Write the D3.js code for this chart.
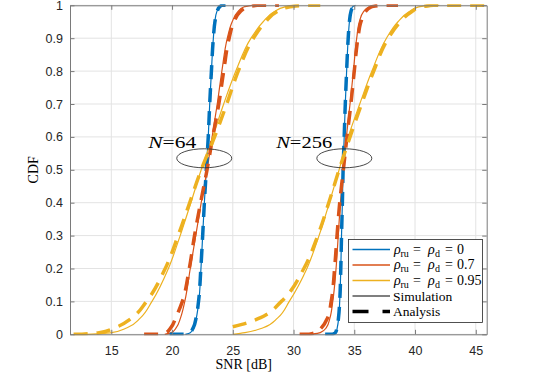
<!DOCTYPE html>
<html>
<head>
<meta charset="utf-8">
<script src="https://cdn.jsdelivr.net/npm/d3@7/dist/d3.min.js"></script>
<style>
  body { margin: 0; background: #fff; }
  .tick text { font: 12.5px "Liberation Sans", Arial, sans-serif; fill: #262626; }
  .serif { font-family: "Liberation Serif", "Times New Roman", serif; fill: #000; }
</style>
</head>
<body>
<svg id="svg1" width="538" height="379"></svg>
<script>
// tick values
var xTicks = [15, 20, 25, 30, 35, 40, 45];
var yTicks = [0, 0.1, 0.2, 0.3, 0.4, 0.5, 0.6, 0.7, 0.8, 0.9, 1];

// curves as [SNR dB, CDF]
var blueSim64 = [[21.1,0],[21.5,0.005],[21.8,0.02],[22.0,0.05],[22.2,0.1],[22.38,0.2],[22.52,0.3],[22.66,0.4],[22.82,0.5],[22.98,0.6],[23.1,0.7],[23.24,0.8],[23.4,0.9],[23.52,0.95],[23.68,0.98],[23.95,0.995],[24.3,1]];
var blueAna64 = [[19.8,0],[21.0,0],[21.45,0.005],[21.75,0.02],[21.98,0.05],[22.18,0.1],[22.37,0.2],[22.52,0.3],[22.66,0.4],[22.82,0.5],[22.98,0.6],[23.1,0.7],[23.24,0.8],[23.4,0.9],[23.53,0.95],[23.7,0.98],[23.9,0.995],[24.1,1],[24.4,1]];
var redSim64 = [[19.4,0],[19.95,0.005],[20.35,0.02],[20.7,0.05],[21.05,0.1],[21.5,0.2],[21.95,0.3],[22.4,0.4],[22.88,0.5],[23.3,0.6],[23.72,0.7],[24.1,0.8],[24.55,0.9],[24.95,0.95],[25.4,0.98],[25.9,0.995],[26.6,1]];
var redAna64 = [[17.7,0],[18.9,0],[19.5,0.005],[19.9,0.02],[20.3,0.05],[20.85,0.1],[21.42,0.2],[21.85,0.3],[22.35,0.4],[22.88,0.5],[23.35,0.6],[23.85,0.7],[24.25,0.8],[24.7,0.9],[25.1,0.95],[25.6,0.98],[26.2,0.995],[27.0,1],[28.8,1]];
var yellowSim64 = [[13.0,0],[15.0,0.005],[16.3,0.02],[17.4,0.05],[18.35,0.1],[19.7,0.2],[20.67,0.3],[21.55,0.4],[22.4,0.5],[23.35,0.6],[24.25,0.7],[25.25,0.8],[26.5,0.9],[27.5,0.95],[28.4,0.98],[29.3,0.995],[30.0,1]];
var yellowAna64 = [[10,0],[12.6,0],[14.0,0.005],[15.3,0.02],[16.7,0.05],[17.9,0.1],[19.44,0.2],[20.5,0.3],[21.45,0.4],[22.4,0.5],[23.5,0.6],[24.5,0.7],[25.45,0.8],[26.7,0.9],[27.7,0.95],[28.6,0.98],[29.6,0.995],[30.8,1],[32.2,1]];

var blueSim256 = [[33.3,0],[33.5,0.005],[33.6,0.02],[33.72,0.05],[33.8,0.1],[33.89,0.2],[33.95,0.3],[34.02,0.4],[34.08,0.5],[34.17,0.6],[34.26,0.7],[34.37,0.8],[34.5,0.9],[34.6,0.95],[34.7,0.98],[34.85,0.995],[35.1,1]];
var blueAna256 = [[32.6,0],[33.2,0],[33.45,0.005],[33.58,0.02],[33.7,0.05],[33.8,0.1],[33.89,0.2],[33.95,0.3],[34.02,0.4],[34.08,0.5],[34.17,0.6],[34.26,0.7],[34.37,0.8],[34.5,0.9],[34.6,0.95],[34.72,0.98],[34.9,0.995],[35.05,1],[35.3,1]];
var redSim256 = [[31.5,0],[32.2,0.005],[32.7,0.02],[33.0,0.05],[33.23,0.1],[33.5,0.2],[33.68,0.3],[33.86,0.4],[34.1,0.5],[34.35,0.6],[34.65,0.7],[34.93,0.8],[35.2,0.9],[35.42,0.95],[35.75,0.98],[36.2,0.995],[36.8,1]];
var redAna256 = [[30.5,0],[31.3,0],[31.8,0.005],[32.3,0.02],[32.8,0.05],[33.1,0.1],[33.38,0.2],[33.58,0.3],[33.8,0.4],[34.1,0.5],[34.4,0.6],[34.72,0.7],[35.0,0.8],[35.3,0.9],[35.55,0.95],[35.9,0.98],[36.4,0.995],[37.2,1],[38.6,1]];
var yellowSim256 = [[25.0,0],[26.0,0.005],[27.5,0.02],[28.7,0.05],[29.65,0.1],[31.1,0.2],[32.1,0.3],[32.95,0.4],[33.75,0.5],[34.5,0.6],[35.45,0.7],[36.45,0.8],[37.65,0.9],[38.6,0.95],[39.5,0.98],[40.3,0.995],[41.0,1],[42.0,1]];
var yellowAna256 = [[25.0,0.023],[26.2,0.035],[27.25,0.05],[29.0,0.1],[30.85,0.2],[32.0,0.3],[32.9,0.4],[33.75,0.5],[34.65,0.6],[35.6,0.7],[36.6,0.8],[37.8,0.9],[38.8,0.95],[39.7,0.98],[40.5,0.995],[41.5,1],[47,1]];

var series = [
  {color: "#0072BD", sim: [blueSim64, blueSim256], ana: [blueAna64, blueAna256], label: "0"},
  {color: "#D95319", sim: [redSim64, redSim256], ana: [redAna64, redAna256], label: "0.7"},
  {color: "#EDB120", sim: [yellowSim64, yellowSim256], ana: [yellowAna64, yellowAna256], label: "0.95"}
];

var svg1 = d3.select("#svg1"),
    margin = {top: 5.3, left: 70, right: 51.3, bottom: 44.7},
    width1 = +svg1.attr("width") - margin.left - margin.right,
    height1 = +svg1.attr("height") - margin.top - margin.bottom,
    g1 = svg1.append("g").attr("transform", "translate(" + margin.left + "," + margin.top + ")");

var x1 = d3.scaleLinear().domain([11.6, 45.9]).range([0, width1]),
    y1 = d3.scaleLinear().domain([0, 1]).range([height1, 0]);

// grid
g1.append("g").selectAll("line").data(xTicks).enter().append("line")
    .attr("x1", function(d) { return x1(d); }).attr("x2", function(d) { return x1(d); })
    .attr("y1", 0).attr("y2", height1)
    .attr("stroke", "#e3e3e3");
g1.append("g").selectAll("line").data(yTicks).enter().append("line")
    .attr("y1", function(d) { return y1(d); }).attr("y2", function(d) { return y1(d); })
    .attr("x1", 0).attr("x2", width1)
    .attr("stroke", "#e3e3e3");

svg1.append("defs").append("clipPath").attr("id", "clip")
  .append("rect").attr("width", width1).attr("height", height1 + 2).attr("y", -1);

var line = d3.line()
    .curve(d3.curveMonotoneY)
    .x(function(d) { return x1(d[0]); })
    .y(function(d) { return y1(d[1]); });

function pt(p) { return x1(p[0]) + "," + y1(p[1]); }

// flat head/tail segments drawn straight, the rising part smooth
function curvePath(pts) {
  var i = 0, j = pts.length - 1;
  while (i < j && pts[i + 1][1] === pts[i][1]) i++;
  while (j > i && pts[j - 1][1] === pts[j][1]) j--;
  var body = line(pts.slice(i, j + 1));
  var head = pts.slice(0, i).map(pt);
  var tail = pts.slice(j + 1).map(pt);
  var d = head.length ? "M" + head.join("L") + "L" + body.slice(1) : body;
  if (tail.length) d += "L" + tail.join("L");
  return d;
}

var plot = g1.append("g").attr("clip-path", "url(#clip)");

series.forEach(function(s) {
  s.sim.forEach(function(c) {
    plot.append("path").attr("d", curvePath(c))
      .attr("fill", "none").attr("stroke", s.color).attr("stroke-width", 1.2);
  });
});
series.forEach(function(s) {
  s.ana.forEach(function(c) {
    plot.append("path").attr("d", curvePath(c))
      .attr("fill", "none").attr("stroke", s.color).attr("stroke-width", 3.5)
      .attr("stroke-dasharray", "14,9");
  });
});

// axes with inward ticks on all sides
g1.append("g").attr("transform", "translate(0," + height1 + ")")
  .call(d3.axisBottom(x1).tickValues(xTicks).tickSizeInner(-4.5).tickSizeOuter(0).tickPadding(12));
g1.append("g")
  .call(d3.axisTop(x1).tickValues(xTicks).tickSizeInner(-4.5).tickSizeOuter(0).tickFormat(""));
g1.append("g")
  .call(d3.axisLeft(y1).tickValues(yTicks).tickSizeInner(-4.5).tickSizeOuter(0).tickPadding(7).tickFormat(d3.format("")));
g1.append("g").attr("transform", "translate(" + width1 + ",0)")
  .call(d3.axisRight(y1).tickValues(yTicks).tickSizeInner(-4.5).tickSizeOuter(0).tickFormat(""));
g1.selectAll(".domain").attr("stroke", "#7a7a7a");
g1.selectAll(".tick line").attr("stroke", "#7a7a7a");

// axis labels
svg1.append("text").attr("class", "serif")
  .attr("x", margin.left + x1(25.9)).attr("y", 369).attr("text-anchor", "middle")
  .style("font-size", "14px").text("SNR [dB]");
svg1.append("text").attr("class", "serif")
  .attr("transform", "translate(38," + (margin.top + y1(0.5)) + ") rotate(-90)")
  .attr("text-anchor", "middle").style("font-size", "14px").text("CDF");

// N annotations with ellipses
var ann = [{n: "64", tx: 18.04, ty: 0.567, len: 48, cx: 22.65, cy: 0.535},
           {n: "256", tx: 28.57, ty: 0.567, len: 56, cx: 34.18, cy: 0.535}];
ann.forEach(function(a) {
  var t = g1.append("text").attr("class", "serif")
    .attr("x", x1(a.tx)).attr("y", y1(a.ty))
    .attr("textLength", a.len).attr("lengthAdjust", "spacingAndGlyphs")
    .style("font-size", "17px");
  t.append("tspan").style("font-style", "italic").text("N");
  t.append("tspan").text("=" + a.n);
  g1.append("ellipse")
    .attr("cx", x1(a.cx)).attr("cy", y1(a.cy))
    .attr("rx", 27.5).attr("ry", 9.5)
    .attr("fill", "none").attr("stroke", "#333").attr("stroke-width", 0.9);
});

// legend
var lg = svg1.append("g").attr("transform", "translate(348.5,239.5)");
lg.append("rect").attr("width", 134).attr("height", 83)
  .attr("fill", "#fff").attr("stroke", "#262626").attr("stroke-width", 0.8);
var rowY = [10, 25.5, 41, 56.5, 72];
series.forEach(function(s, i) {
  lg.append("line").attr("x1", 4).attr("x2", 41.5).attr("y1", rowY[i]).attr("y2", rowY[i])
    .attr("stroke", s.color).attr("stroke-width", 1.3);
  var t = lg.append("text").attr("class", "serif").attr("y", rowY[i] + 4)
    .style("font-size", "14px");
  t.append("tspan").attr("x", 45.5).style("font-style", "italic").text("\u03c1");
  t.append("tspan").attr("x", 52).attr("dy", 3).style("font-size", "10px").text("ru");
  t.append("tspan").attr("x", 64.5).attr("dy", -3).text("=");
  t.append("tspan").attr("x", 79.5).style("font-style", "italic").text("\u03c1");
  t.append("tspan").attr("x", 86.5).attr("dy", 3).style("font-size", "10px").text("d");
  t.append("tspan").attr("x", 96.5).attr("dy", -3).text("=");
  t.append("tspan").attr("x", 108.5).text(s.label);
});
lg.append("line").attr("x1", 4).attr("x2", 41.5).attr("y1", rowY[3]).attr("y2", rowY[3])
  .attr("stroke", "#000").attr("stroke-width", 1.2);
lg.append("text").attr("class", "serif").attr("x", 44.5).attr("y", rowY[3] + 4.5)
  .style("font-size", "13.5px").text("Simulation");
lg.append("line").attr("x1", 4).attr("x2", 41.5).attr("y1", rowY[4]).attr("y2", rowY[4])
  .attr("stroke", "#000").attr("stroke-width", 3.5).attr("stroke-dasharray", "16,14");
lg.append("text").attr("class", "serif").attr("x", 44.5).attr("y", rowY[4] + 4.5)
  .style("font-size", "13.5px").text("Analysis");
</script>
</body>
</html>
